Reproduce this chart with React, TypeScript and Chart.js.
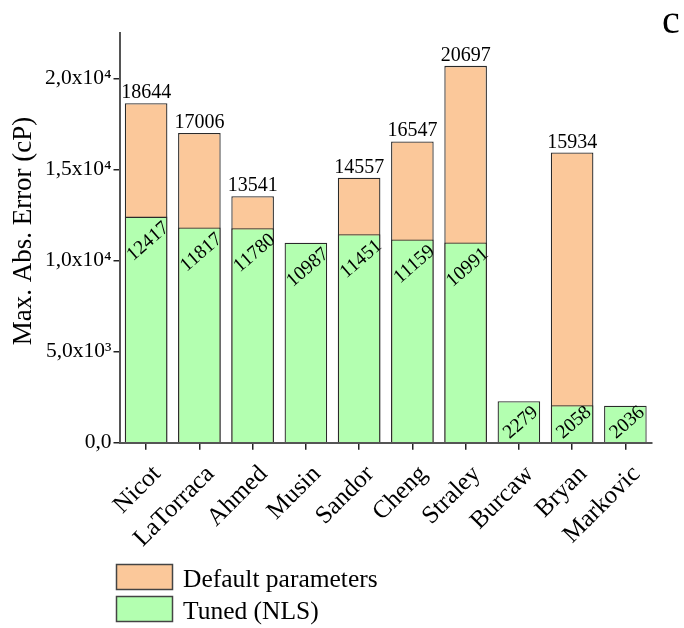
import React, { useEffect, useRef } from 'react';
import { Chart, registerables } from 'chart.js';

Chart.register(...registerables);

const categories = ['Nicot', 'LaTorraca', 'Ahmed', 'Musin', 'Sandor', 'Cheng', 'Straley', 'Burcaw', 'Bryan', 'Markovic'];
const defaultParams: (number | null)[] = [18644, 17006, 13541, null, 14557, 16547, 20697, null, 15934, null];
const tunedNLS: number[] = [12417, 11817, 11780, 10987, 11451, 11159, 10991, 2279, 2058, 2036];
const yTickValues = [0, 5000, 10000, 15000, 20000];
const yTickLabels = ['0,0', '5,0x10³', '1,0x10⁴', '1,5x10⁴', '2,0x10⁴'];
const legendLabels = ['Default parameters', 'Tuned (NLS)'];
const yTitle = 'Max. Abs. Error (cP)';
const panelLetter = 'c';

const FONT = "'Liberation Serif', 'Times New Roman', serif";
const ORANGE = '#fbc89a';
const GREEN = '#b3ffb0';
const EDGE = '#2a2a2a';

const overlayPlugin = {
  id: 'overlayPlugin',
  afterDatasetsDraw(chart: any) {
    const ctx = chart.ctx;
    const dDefault = chart.getDatasetMeta(1);
    const dTuned = chart.getDatasetMeta(0);
    const base = chart.scales.y.getPixelForValue(0);
    ctx.save();
    ctx.fillStyle = '#000';
    ctx.font = `20px ${FONT}`;
    ctx.textAlign = 'center';
    ctx.textBaseline = 'alphabetic';
    dDefault.data.forEach((bar: any, i: number) => {
      const v = defaultParams[i];
      if (v == null) return;
      ctx.fillText(String(v), bar.x, bar.y - 5);
    });
    ctx.font = `19.5px ${FONT}`;
    dTuned.data.forEach((bar: any, i: number) => {
      const v = tunedNLS[i];
      if (v == null) return;
      const cy = Math.min(bar.y + 25, base - 20);
      ctx.save();
      ctx.translate(bar.x + 2, cy);
      ctx.rotate((-41 * Math.PI) / 180);
      ctx.textAlign = 'center';
      ctx.textBaseline = 'middle';
      ctx.fillText(String(v), 0, 0);
      ctx.restore();
    });
    ctx.restore();
  },
  afterDraw(chart: any) {
    const ctx = chart.ctx;
    ctx.save();
    // y-axis title
    ctx.save();
    ctx.translate(24, 231);
    ctx.rotate(-Math.PI / 2);
    ctx.font = `27px ${FONT}`;
    ctx.fillStyle = '#000';
    ctx.textAlign = 'center';
    ctx.textBaseline = 'middle';
    ctx.fillText(yTitle, 0, 0);
    ctx.restore();
    // legend
    const colors = [ORANGE, GREEN];
    const boxes = [
      { x: 116, y: 564, w: 57, h: 26 },
      { x: 116, y: 596, w: 57, h: 26 },
    ];
    boxes.forEach((b, i) => {
      ctx.fillStyle = colors[i];
      ctx.fillRect(b.x, b.y, b.w, b.h);
      ctx.strokeStyle = '#444';
      ctx.lineWidth = 1.5;
      ctx.strokeRect(b.x + 0.5, b.y + 0.5, b.w - 1, b.h - 1);
      ctx.fillStyle = '#000';
      ctx.font = `25.5px ${FONT}`;
      ctx.textAlign = 'left';
      ctx.textBaseline = 'alphabetic';
      ctx.fillText(legendLabels[i], 183, b.y + 23);
    });
    // panel letter
    ctx.font = `40px ${FONT}`;
    ctx.textAlign = 'left';
    ctx.textBaseline = 'alphabetic';
    ctx.fillStyle = '#000';
    ctx.fillText(panelLetter, 662, 33);
    ctx.restore();
  },
};

export default function App() {
  const ref = useRef<HTMLCanvasElement | null>(null);
  useEffect(() => {
    document.body.style.margin = '0';
    const canvas = ref.current;
    if (!canvas) return;
    const chart = new Chart(canvas, {
      type: 'bar',
      data: {
        labels: categories,
        datasets: [
          {
            label: legendLabels[1],
            data: tunedNLS,
            backgroundColor: GREEN,
            borderColor: EDGE,
            borderWidth: 1.3,
            grouped: false,
            order: 0,
            barPercentage: 0.8,
            categoryPercentage: 1,
          } as any,
          {
            label: legendLabels[0],
            data: defaultParams,
            backgroundColor: ORANGE,
            borderColor: EDGE,
            borderWidth: 1.3,
            grouped: false,
            order: 1,
            barPercentage: 0.8,
            categoryPercentage: 1,
          } as any,
        ],
      },
      options: {
        animation: false,
        responsive: false,
        devicePixelRatio: 1,
        layout: { padding: { top: 33, right: 32, left: 0, bottom: 0 } },
        plugins: {
          legend: { display: false },
          tooltip: { enabled: false },
          title: { display: false },
        },
        scales: {
          x: {
            offset: true,
            grid: {
              offset: false,
              drawOnChartArea: false,
              drawTicks: true,
              tickLength: 7,
              color: '#222',
              lineWidth: 1.5,
            },
            border: { display: true, color: '#555', width: 2 },
            ticks: {
              color: '#000',
              font: { family: FONT, size: 25 },
              maxRotation: 45,
              minRotation: 45,
              autoSkip: false,
              padding: 10,
              labelOffset: 11,
            },
            afterFit: (scale: any) => {
              scale.height = 185.3;
            },
          },
          y: {
            min: 0,
            max: 22500,
            grid: {
              drawOnChartArea: false,
              drawTicks: true,
              tickLength: 6,
              color: '#222',
              lineWidth: 1.5,
            },
            border: { display: true, color: '#555', width: 2 },
            ticks: {
              stepSize: 5000,
              color: '#000',
              font: { family: FONT, size: 21.5 },
              padding: 2,
              callback: (v: any) => {
                const idx = yTickValues.indexOf(Number(v));
                return idx >= 0 ? yTickLabels[idx] : '';
              },
            },
            afterBuildTicks: (scale: any) => {
              scale.ticks = yTickValues.map((v) => ({ value: v }));
            },
            title: { display: false },
            afterFit: (scale: any) => {
              scale.width = 119.5;
            },
          },
        },
      },
      plugins: [overlayPlugin],
    });
    return () => chart.destroy();
  }, []);
  return <canvas ref={ref} width={684} height={628} style={{ display: 'block', width: 684, height: 628 }} />;
}
